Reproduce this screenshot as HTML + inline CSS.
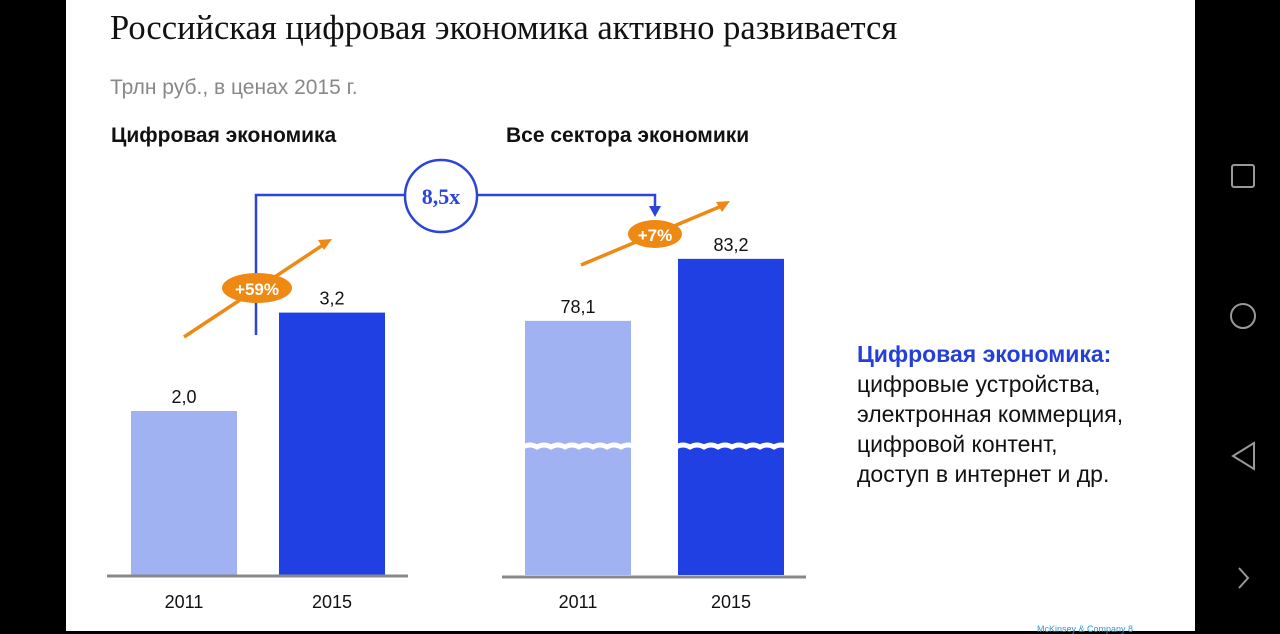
<!DOCTYPE html>
<html><head><meta charset="utf-8"><style>
body{margin:0;width:1280px;height:631px;background:#000;overflow:hidden;font-family:"Liberation Sans",sans-serif}
#slide{position:absolute;left:66px;top:0;width:1129px;height:631px;background:#fff}
.t{position:absolute;white-space:nowrap}
</style></head><body>
<div id="slide"></div>
<div class="t" style="left:110px;top:9px;font-family:'Liberation Serif',serif;font-size:34.5px;color:#111">Российская цифровая экономика активно развивается</div>
<div class="t" style="left:110px;top:76px;font-size:21px;color:#888">Трлн руб., в ценах 2015 г.</div>
<div class="t" style="left:111px;top:124px;font-size:21px;font-weight:bold;color:#111">Цифровая экономика</div>
<div class="t" style="left:506px;top:124px;font-size:21px;font-weight:bold;color:#111">Все сектора экономики</div>
<div class="t" style="left:857px;top:339px;font-size:23px;line-height:30px;color:#111"><span style="color:#2540d8;font-weight:bold">Цифровая экономика:</span><br>цифровые устройства,<br>электронная коммерция,<br>цифровой контент,<br>доступ в интернет и др.</div>
<div class="t" style="left:1037px;top:624px;font-size:9px;color:#39c">McKinsey &amp; Company 8</div>
<svg id="c" width="1280" height="631" style="position:absolute;left:0;top:0"></svg>
<script>
const leftYears=["2011","2015"];
const leftValues=[2.0,3.2];
const rightYears=["2011","2015"];
const rightValues=[78.1,83.2];
const leftLabels=["2,0","3,2"];
const rightLabels=["78,1","83,2"];
const colors=["#a0b2f2","#2140e4"];
const NS="http://www.w3.org/2000/svg";
const svg=document.getElementById('c');
function mk(t,a,name,txt){const e=document.createElementNS(NS,t);for(const k in a)e.setAttribute(k,a[k]);


if(txt!==undefined)e.textContent=txt;svg.appendChild(e);return e;}
const base=575;
function yL(v){return base-v*82;}
function yR(v){return base-(v-57.2)*12.16;}
const lx=[131,279],rx=[525,678],bw=106;
leftValues.forEach((v,i)=>{
 mk('rect',{x:lx[i],y:yL(v),width:bw,height:base-yL(v),fill:colors[i]},'left-bar-'+leftYears[i]);
 mk('text',{x:lx[i]+bw/2,y:yL(v)-8,'text-anchor':'middle','font-size':18,fill:'#111','font-family':'Liberation Sans'},'left-value-'+leftYears[i],leftLabels[i]);
 mk('text',{x:lx[i]+bw/2,y:608,'text-anchor':'middle','font-size':18,fill:'#111','font-family':'Liberation Sans'},'left-year-'+leftYears[i],leftYears[i]);
});
rightValues.forEach((v,i)=>{
 mk('rect',{x:rx[i],y:yR(v),width:bw,height:base-yR(v),fill:colors[i]},'right-bar-'+rightYears[i]);
 let d='M'+(rx[i]-2)+' 447';for(let k=0;k<8;k++){d+=' q7 -4 14 0';}
 mk('path',{d:d,stroke:'#fff','stroke-width':5,fill:'none'},'axis-break-'+rightYears[i]);
 mk('text',{x:rx[i]+bw/2,y:yR(v)-8,'text-anchor':'middle','font-size':18,fill:'#111','font-family':'Liberation Sans'},'right-value-'+rightYears[i],rightLabels[i]);
 mk('text',{x:rx[i]+bw/2,y:608,'text-anchor':'middle','font-size':18,fill:'#111','font-family':'Liberation Sans'},'right-year-'+rightYears[i],rightYears[i]);
});
mk('line',{x1:107,y1:576,x2:408,y2:576,stroke:'#888','stroke-width':3},'left-baseline');
mk('line',{x1:502,y1:577,x2:806,y2:577,stroke:'#888','stroke-width':3},'right-baseline');
mk('path',{d:'M256 335 V195 H405 M477 195 H655 V210',stroke:'#2a45d8','stroke-width':2.5,fill:'none'},'connector-line');
mk('path',{d:'M649 206 L661 206 L655 217 Z',fill:'#2a45d8'},'connector-arrowhead');
mk('circle',{cx:441,cy:196,r:36,fill:'#fff',stroke:'#2a45d8','stroke-width':2.5},'ratio-circle');
mk('text',{x:441,y:204,'text-anchor':'middle','font-size':22,'font-weight':'bold',fill:'#2a45d8','font-family':'Liberation Serif'},'ratio-label','8,5x');
function arrow(x1,y1,x2,y2,n){mk('line',{x1:x1,y1:y1,x2:x2-6,y2:y2+4,stroke:'#ee8a14','stroke-width':3.5},n+'-line');
 mk('path',{d:`M${x2} ${y2} l-14 1 l6 10 Z`,fill:'#ee8a14'},n+'-head');}
arrow(184,337,332,239,'left-growth-arrow');
arrow(581,265,730,201,'right-growth-arrow');
mk('ellipse',{cx:257,cy:288,rx:35,ry:15,fill:'#ee8a14'},'left-growth-badge');
mk('text',{x:257,y:295,'text-anchor':'middle','font-size':17,'font-weight':'bold',fill:'#fff','font-family':'Liberation Sans'},'left-growth-label','+59%');
mk('ellipse',{cx:655,cy:234,rx:27,ry:14,fill:'#ee8a14'},'right-growth-badge');
mk('text',{x:655,y:241,'text-anchor':'middle','font-size':17,'font-weight':'bold',fill:'#fff','font-family':'Liberation Sans'},'right-growth-label','+7%');
mk('rect',{x:1232,y:165,width:22,height:22,rx:2,fill:'none',stroke:'#999','stroke-width':2},'nav-recents');
mk('circle',{cx:1243,cy:316,r:12,fill:'none',stroke:'#999','stroke-width':2},'nav-home');
mk('path',{d:'M1254 443 L1233 456 L1254 469 Z',fill:'none',stroke:'#999','stroke-width':2},'nav-back');
mk('path',{d:'M1239 568 L1248 578 L1239 588',fill:'none',stroke:'#999','stroke-width':2},'nav-next');
</script>
</body></html>
